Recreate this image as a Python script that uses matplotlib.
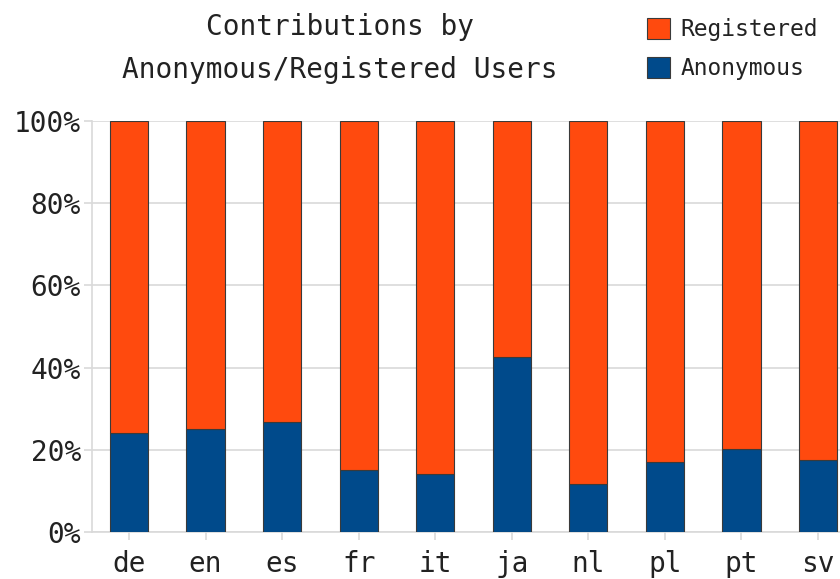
import matplotlib
matplotlib.use("Agg")
import matplotlib.pyplot as plt
from matplotlib.patches import Patch
import numpy as np

categories = ["de", "en", "es", "fr", "it", "ja", "nl", "pl", "pt", "sv"]
anonymous = [24.2, 25.0, 26.7, 15.2, 14.2, 42.7, 11.7, 17.0, 20.1, 17.5]
registered = [100 - a for a in anonymous]
y_ticks = [0, 20, 40, 60, 80, 100]
y_tick_labels = ["0%", "20%", "40%", "60%", "80%", "100%"]

plt.rcParams['font.family'] = ['DejaVu Sans Mono', 'DejaVu Sans']

ORANGE = "#FF4A0E"
BLUE = "#004A8B"
EDGE = "#3a3a3a"
GRID = "#d9d9d9"

fig = plt.figure(figsize=(8.4, 5.79), dpi=100)
ax = fig.add_axes([92/840, (579-532)/579, (855-92)/840, (532-121)/579])

x = np.arange(len(categories))
ax.bar(x, anonymous, width=0.5, color=BLUE, edgecolor=EDGE, linewidth=0.8, zorder=3)
ax.bar(x, registered, width=0.5, bottom=anonymous, color=ORANGE, edgecolor=EDGE, linewidth=0.8, zorder=3)

ax.set_xlim(-0.483, len(categories) - 1 + 0.483)
ax.set_ylim(0, 100)
ax.set_xticks(x)
ax.set_xticklabels(categories, fontsize=20, color="#222222")
ax.set_yticks(y_ticks)
ax.set_yticklabels(y_tick_labels, fontsize=20, color="#222222")
ax.yaxis.grid(True, color=GRID, linewidth=1.2, zorder=0)
ax.set_axisbelow(True)
for s in ["top", "right"]:
    ax.spines[s].set_visible(False)
for s in ["left", "bottom"]:
    ax.spines[s].set_color(GRID)
    ax.spines[s].set_linewidth(1.2)
ax.tick_params(axis="both", color=GRID, length=6, width=1.2)
ax.tick_params(axis="y", pad=2)
ax.tick_params(axis="x", pad=7)

fig.text(340/840, 1 - 27/579, "Contributions by", ha="center", va="center", fontsize=20, color="#222222")
fig.text(340/840, 1 - 70/579, "Anonymous/Registered Users", ha="center", va="center", fontsize=20, color="#222222")

handles = [Patch(facecolor=ORANGE, edgecolor=EDGE, linewidth=0.8, label="Registered"),
           Patch(facecolor=BLUE, edgecolor=EDGE, linewidth=0.8, label="Anonymous")]
fig.legend(handles=handles, loc="upper left", bbox_to_anchor=(647/840, 1 - 18/579),
           frameon=False, fontsize=16.5, handlelength=1.0, handleheight=1.0,
           handletextpad=0.45, labelspacing=0.7, borderaxespad=0, borderpad=0,
           labelcolor="#222222")

fig.savefig("out.png", dpi=100)
